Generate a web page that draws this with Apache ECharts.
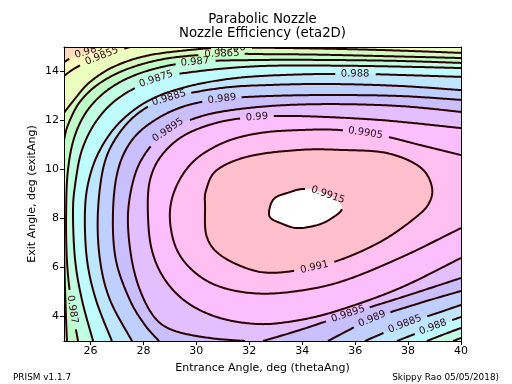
<!DOCTYPE html>
<html><head><meta charset="utf-8">
<script src="https://cdn.jsdelivr.net/npm/echarts@6/dist/echarts.min.js"></script>
<style>html,body{margin:0;padding:0;background:#fff}#c{width:512px;height:384px}</style>
</head><body><div id="c"></div>
<script>
// ---------- data ----------
const xTicks = [26, 28, 30, 32, 34, 36, 38, 40];
const yTicks = [4, 6, 8, 10, 12, 14];
const levels = [0.985, 0.9855, 0.986, 0.9865, 0.987, 0.9875, 0.988, 0.9885, 0.989, 0.9895, 0.99, 0.9905, 0.991, 0.9915];

// contour pieces (thetaAng, exitAng), ordered with higher values on the left
const c9850 = [[26.51,15],[25.98,14.84],[25.42,14.63],[25,14.39]];
const c9855 = [[27.49,15],[26.74,14.76],[25.98,14.43],[25.42,14.14],[25,13.82]];
const c9860 = [[40,14.76],[37.5,14.86],[35.0,14.93],[32.4,14.97],[31.0,14.96],[30.14,14.92],[28.25,14.67],[26.93,14.22],[25.98,13.57],[25.38,12.84],[25,12.31]];
const c9865a = [[40,14.55],[37.0,14.63],[34.5,14.69],[32.4,14.71],[30.97,14.72],[29.0,14.55],[27.49,14.14],[26.36,13.53],[25.6,12.76],[25.15,11.82],[25,11.2]];
const c9865b = [[25,7.12],[25.04,5.08],[25.11,3]];
const c9870a = [[40,14.35],[37.69,14.43],[35.05,14.47],[32.41,14.47],[29.95,14.39],[28.25,14.06],[26.93,13.45],[25.98,12.55],[25.42,11.41],[25.15,9.98],[25.08,8.22],[25.11,6.31],[25.26,4.67],[25.53,3]];
const c9870b = [[39.7,3],[40,3.12]];
const c9875a = [[40,14.14],[37.69,14.2],[35.05,14.24],[32.41,14.22],[30.14,14.02],[28.48,13.69],[27.12,12.96],[26.25,12.02],[25.68,10.8],[25.42,9.37],[25.34,8.22],[25.42,6.31],[25.68,4.67],[26.1,3]];
const c9875b = [[38.71,3],[39.4,3.29],[40,3.53]];
const c9880a = [[40,13.78],[37.69,13.86],[36.0,13.9],[33.92,13.88],[31.65,13.75],[29.76,13.41],[28.25,12.84],[27.12,11.94],[26.36,10.8],[25.94,9.57],[25.79,8.22],[25.87,6.31],[26.21,4.67],[26.81,3]];
const c9880b = [[37.58,3],[38.94,3.57],[40,3.98]];
const c9885a = [[40,13.24],[37.69,13.41],[35.05,13.49],[32.78,13.45],[30.97,13.33],[28.97,12.92],[27.87,12.35],[27.04,11.41],[26.51,10.18],[26.28,8.22],[26.36,6.31],[26.74,4.67],[27.57,3]];
const c9885b = [[36.37,3],[37.88,3.69],[39.21,4.18],[40,4.47]];
const c9890a = [[40,12.84],[37.69,13.0],[35.05,13.04],[32.78,13.0],[30.97,12.88],[29.57,12.59],[28.44,12.02],[27.57,11.2],[27.04,9.98],[26.85,8.22],[26.96,6.31],[27.49,4.67],[28.06,3.65],[28.59,3]];
const c9890b = [[34.97,3],[36.64,3.9],[38.45,4.55],[40,5.04]];
const c9895a = [[40,12.35],[37.69,12.59],[35.05,12.67],[32.78,12.59],[30.89,12.35],[29.76,12.02],[28.93,11.61],[28.17,10.8],[27.68,9.78],[27.42,8.22],[27.53,6.51],[27.87,5.08],[28.44,3.94],[29.19,3.41],[30.52,3.12],[31.84,3]];
const c9895b = [[32.52,3],[33.92,3.45],[35.73,4.1],[37.69,4.76],[40,5.57]];
const c9900 = [[40,11.69],[36.94,12.02],[33.92,12.18],[32.29,12.14],[30.89,11.94],[29.57,11.41],[28.7,10.59],[28.25,9.57],[28.17,8.22],[28.32,6.71],[28.82,5.49],[29.68,4.55],[30.89,3.94],[32.41,3.69],[33.92,3.86],[35.43,4.27],[37.69,5.16],[40,6.39]];
const c9905 = [[40,10.59],[38.45,11.0],[37.05,11.37],[35.43,11.61],[33.92,11.61],[32.41,11.49],[31.08,11.12],[29.95,10.39],[29.27,9.37],[29.0,8.22],[29.19,6.92],[29.76,5.98],[30.71,5.29],[32.03,4.96],[33.54,5.0],[35.43,5.41],[37.69,6.39],[40,7.61]];
const c9910 = [[38.9,9.29],[38.45,10.1],[37.2,10.67],[35.43,10.8],[33.92,10.8],[32.03,10.55],[30.78,9.98],[30.37,9.16],[30.33,8.47],[30.4,7.24],[31.01,6.43],[32.41,5.82],[33.92,5.9],[35.43,6.31],[36.94,7.04],[38.07,7.86],[38.75,8.55]];
const c9915 = [[35.05,8.92],[34.11,9.2],[33.43,9.04],[32.97,8.84],[32.78,8.47],[32.78,8.06],[33.16,7.82],[33.8,7.61],[34.56,7.73],[35.13,8.02],[35.5,8.43]];

// inline contour labels: [level, thetaAng, exitAng]
const labelSpots = [
  [0.985, 25.91, 14.80], [0.9855, 26.44, 14.59], [0.986, 31.3, 15.0], [0.9865, 30.97, 14.74],
  [0.987, 29.95, 14.39], [0.9875, 28.48, 13.69], [0.988, 36.0, 13.90], [0.9885, 28.97, 12.92],
  [0.989, 30.97, 12.88], [0.9895, 28.93, 11.61], [0.99, 32.29, 12.14], [0.9905, 36.37, 11.53],
  [0.991, 34.48, 5.98], [0.9915, 35.05, 9.12], [0.987, 25.34, 4.27], [0.9895, 35.73, 4.10],
  [0.989, 36.64, 3.90], [0.9885, 37.88, 3.73], [0.988, 38.94, 3.61]
];

const bandColors = ['#ffdabf','#fff8bf','#ebffbf','#d2ffbf','#bfffc8','#bfffe2','#bffcff','#bfe6ff','#bfcfff','#c9bfff','#e3bfff','#fbbfff','#ffbff0','#ffbfcd','#ffffff'];

const piecesByLevel = [
  [c9850],[c9855],[c9860],[c9865a,c9865b],[c9870a,c9870b],[c9875a,c9875b],[c9880a,c9880b],
  [c9885a,c9885b],[c9890a,c9890b],[c9895a,c9895b],[c9900],[c9905],[c9910],[c9915]
];

// ---------- geometry helpers ----------
const X0 = 25, X1 = 40, Y0 = 3, Y1 = 15;
const PER = 2 * (X1 - X0) + 2 * (Y1 - Y0);
const corners = [[0,[X0,Y0]],[X1-X0,[X1,Y0]],[(X1-X0)+(Y1-Y0),[X1,Y1]],[2*(X1-X0)+(Y1-Y0),[X0,Y1]]];
function perimT(p){
  const x = p[0], y = p[1], e = 1e-6;
  if (Math.abs(y - Y0) < e) return x - X0;
  if (Math.abs(x - X1) < e) return (X1 - X0) + (y - Y0);
  if (Math.abs(y - Y1) < e) return (X1 - X0) + (Y1 - Y0) + (X1 - x);
  if (Math.abs(x - X0) < e) return 2 * (X1 - X0) + (Y1 - Y0) + (Y1 - y);
  return null;
}
const mod = (a) => ((a % PER) + PER) % PER;
function isOpen(p){ return perimT(p[0]) !== null && perimT(p[p.length-1]) !== null; }

// Catmull-Rom smoothing in pixel space (display only)
function smoothPx(px, closed){
  const n = px.length, out = [];
  const get = (i) => closed ? px[(i + n) % n] : px[Math.max(0, Math.min(n - 1, i))];
  const segs = closed ? n : n - 1;
  for (let i = 0; i < segs; i++){
    const p0 = get(i-1), p1 = get(i), p2 = get(i+1), p3 = get(i+2);
    const len = Math.hypot(p2[0]-p1[0], p2[1]-p1[1]);
    const steps = Math.max(2, Math.ceil(len / 1.5));
    for (let k = 0; k < steps; k++){
      const t = k / steps, t2 = t*t, t3 = t2*t;
      const f = (a,b,c,d) => 0.5 * ((2*b) + (-a + c) * t + (2*a - 5*b + 4*c - d) * t2 + (-a + 3*b - 3*c + d) * t3);
      out.push([f(p0[0],p1[0],p2[0],p3[0]), f(p0[1],p1[1],p2[1],p3[1])]);
    }
  }
  out.push(closed ? px[0] : px[n-1]);
  return out;
}
function piecePath(p, api){ return smoothPx(p.map(q => api.coord(q)), !isOpen(p)); }

function superRings(pieces, api){
  const open = pieces.filter(isOpen);
  const rings = pieces.filter(p => !isOpen(p)).map(p => piecePath(p, api));
  if (open.length){
    const used = new Set(); const r = []; let cur = 0;
    for (let guard = 0; guard < 20; guard++){
      used.add(cur);
      r.push(...piecePath(open[cur], api));
      const te = perimT(open[cur][open[cur].length-1]);
      let best = 0, bd = Infinity;
      open.forEach((p, i) => { const d = mod(perimT(p[0]) - te); if (d < bd){ bd = d; best = i; } });
      corners.map(([t, pt]) => [mod(t - te), pt]).filter(([d]) => d > 1e-9 && d < bd)
        .sort((a, b) => a[0] - b[0]).forEach(([, pt]) => r.push(api.coord(pt)));
      if (used.has(best)) break;
      cur = best;
    }
    rings.push(r);
  }
  return rings;
}

const measureCtx = document.createElement('canvas').getContext('2d');
const LABEL_FONT = '10px "DejaVu Sans"';
function labelText(lv){ return String(lv); }
function textWidth(s){ measureCtx.font = LABEL_FONT; return measureCtx.measureText(s).width; }

function levelLines(li, api){ return piecesByLevel[li].map(p => piecePath(p, api)); }
function labelGeom(spot, lines, api){
  const c = api.coord([spot[1], spot[2]]);
  let best = null, bd = Infinity;
  lines.forEach(L => L.forEach((p, i) => { const d = Math.hypot(p[0]-c[0], p[1]-c[1]); if (d < bd){ bd = d; best = [L, i]; } }));
  const L = best[0], i = best[1];
  const a = L[Math.max(0, i - 8)], b = L[Math.min(L.length - 1, i + 8)];
  let ang = Math.atan2(-(b[1]-a[1]), b[0]-a[0]);
  if (ang > Math.PI/2) ang -= Math.PI;
  if (ang <= -Math.PI/2) ang += Math.PI;
  return {c: L[i], ang: ang, w: textWidth(labelText(spot[0]))};
}

// ---------- chart ----------
const chart = echarts.init(document.getElementById('c'), null, {renderer: 'canvas', width: 512, height: 384});
const fillItems = bandColors.map((c, i) => [i]);
const lineItems = levels.map((l, i) => [i]);
const FONT = 'DejaVu Sans';

chart.setOption({
  animation: false,
  grid: {left: 64, right: 51, top: 47, bottom: 43, containLabel: false},
  xAxis: [{
    type: 'value', min: X0, max: X1, z: 10,
    axisLine: {show: true, onZero: false, lineStyle: {color: '#000', width: 1}},
    axisTick: {show: true, length: 4, customValues: xTicks, lineStyle: {color: '#000'}},
    axisLabel: {customValues: xTicks, color: '#000', fontSize: 11, fontFamily: FONT, margin: 5},
    splitLine: {show: false}
  }, {
    type: 'value', min: X0, max: X1, position: 'top', z: 10,
    axisLine: {show: true, onZero: false, lineStyle: {color: '#000', width: 1}},
    axisTick: {show: false}, axisLabel: {show: false}, splitLine: {show: false}
  }],
  yAxis: [{
    type: 'value', min: Y0, max: Y1, z: 10,
    axisLine: {show: true, onZero: false, lineStyle: {color: '#000', width: 1}},
    axisTick: {show: true, length: 4, customValues: yTicks, lineStyle: {color: '#000'}},
    axisLabel: {customValues: yTicks, color: '#000', fontSize: 11, fontFamily: FONT, margin: 5},
    splitLine: {show: false}
  }, {
    type: 'value', min: Y0, max: Y1, position: 'right', z: 10,
    axisLine: {show: true, onZero: false, lineStyle: {color: '#000', width: 1}},
    axisTick: {show: false}, axisLabel: {show: false}, splitLine: {show: false}
  }],
  graphic: [
    {type: 'text', x: 262.5, y: 20, style: {text: 'Parabolic Nozzle', fontSize: 13.3, fontFamily: FONT, fill: '#000', align: 'center', verticalAlign: 'middle'}},
    {type: 'text', x: 262.5, y: 34, style: {text: 'Nozzle Efficiency (eta2D)', fontSize: 13.3, fontFamily: FONT, fill: '#000', align: 'center', verticalAlign: 'middle'}},
    {type: 'text', x: 262.5, y: 368, style: {text: 'Entrance Angle, deg (thetaAng)', fontSize: 11, fontFamily: FONT, fill: '#000', align: 'center', verticalAlign: 'middle'}},
    {type: 'text', x: 32, y: 194, rotation: Math.PI/2, style: {text: 'Exit Angle, deg (exitAng)', fontSize: 11, fontFamily: FONT, fill: '#000', align: 'center', verticalAlign: 'middle'}},
    {type: 'text', x: 13, y: 378, style: {text: 'PRISM v1.1.7', fontSize: 8.9, fontFamily: FONT, fill: '#000', verticalAlign: 'middle'}},
    {type: 'text', x: 499, y: 378, style: {text: 'Skippy Rao 05/05/2018)', fontSize: 8.9, fontFamily: FONT, fill: '#000', align: 'right', verticalAlign: 'middle'}}
  ],
  series: [{
    type: 'custom', name: 'fills', clip: true, z: 1, silent: true,
    data: fillItems,
    renderItem: function(params, api){
      const i = params.dataIndex;
      let rings;
      if (i === 0) rings = [[[X0,Y0],[X1,Y0],[X1,Y1],[X0,Y1]].map(q => api.coord(q))];
      else rings = superRings(piecesByLevel[i-1], api);
      return {type: 'group', children: rings.map(r => ({
        type: 'polygon', shape: {points: r},
        style: {fill: bandColors[i], stroke: bandColors[i], lineWidth: 0.6}
      }))};
    }
  }, {
    type: 'custom', name: 'lines', clip: true, z: 3, silent: true,
    data: lineItems,
    renderItem: function(params, api){
      const li = params.dataIndex, lv = levels[li];
      const lines = levelLines(li, api);
      const gaps = labelSpots.filter(s => s[0] === lv).map(s => labelGeom(s, lines, api));
      const children = [];
      lines.forEach(L => {
        let seg = [];
        L.forEach(p => {
          const inside = gaps.some(g => {
            const dx = p[0] - g.c[0], dy = p[1] - g.c[1];
            const ux = Math.cos(g.ang), uy = -Math.sin(g.ang);
            const u = dx * ux + dy * uy, v = -dx * uy + dy * ux;
            return Math.abs(u) < g.w / 2 + 5 && Math.abs(v) < 8;
          });
          if (inside){ if (seg.length > 1) children.push(seg); seg = []; }
          else seg.push(p);
        });
        if (seg.length > 1) children.push(seg);
      });
      return {type: 'group', children: children.map(s => ({
        type: 'polyline', shape: {points: s},
        style: {stroke: '#2a0000', lineWidth: 2, fill: null, lineJoin: 'round', lineCap: 'butt'}
      }))};
    }
  }, {
    type: 'custom', name: 'labels', clip: true, z: 4, silent: true,
    data: labelSpots.map((s, i) => [i]),
    renderItem: function(params, api){
      const s = labelSpots[params.dataIndex];
      const li = levels.indexOf(s[0]);
      const g = labelGeom(s, levelLines(li, api), api);
      return {type: 'text', x: g.c[0], y: g.c[1], rotation: g.ang,
        style: {text: labelText(s[0]), font: LABEL_FONT, fill: '#2a0a14', align: 'center', verticalAlign: 'middle'}};
    }
  }]
});
</script></body></html>
